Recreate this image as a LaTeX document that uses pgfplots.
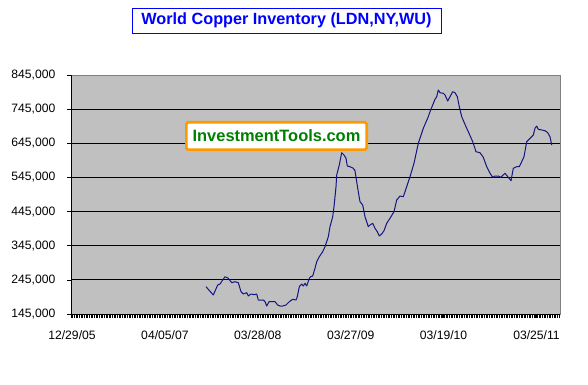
\documentclass[border=0pt]{standalone}
\usepackage{pgfplots}
\pgfplotsset{compat=1.18}
\usepackage{pgfplotstable}
\usepackage{fontspec}
\setmainfont{Liberation Sans}
\definecolor{plotgrey}{RGB}{192,192,192}
\definecolor{bordergrey}{RGB}{128,128,128}
\definecolor{navyline}{RGB}{20,20,130}
\definecolor{wmgreen}{RGB}{0,128,0}
\definecolor{wmorange}{RGB}{255,153,0}
\definecolor{titleblue}{RGB}{0,0,255}

\pgfplotstableread{
x y
206.0 224950
213.3 200640
217.7 229930
220.0 232860
225.0 254240
228.3 249560
231.7 236670
235.0 239600
238.3 236670
241.0 210310
243.3 203570
246.7 207380
248.3 197710
251.0 203570
254.3 201520
256.7 203570
258.3 186000
263.3 186000
265.0 181020
266.7 168420
269.0 181020
271.7 181020
275.0 181020
277.7 171350
280.0 168420
282.7 168420
286.0 171350
289.3 181020
292.7 188050
296.0 186000
297.3 195660
299.3 224950
301.7 232860
303.3 227000
305.0 234910
306.7 227000
309.3 249560
310.7 254240
312.7 256290
315.0 278840
316.7 298170
319.3 312820
322.7 327460
325.0 342110
326.7 356750
328.3 371400
330.0 400690
332.7 429980
334.0 459260
336.0 517840
336.7 552110
339.3 581400
341.7 617420
344.0 610690
346.0 601020
347.3 578470
350.0 576420
353.3 571730
355.0 564700
356.7 532490
358.3 503200
360.0 473910
362.7 464240
365.0 429980
368.3 400690
370.0 405670
372.7 410640
375.0 396000
377.3 386040
379.3 373450
381.7 379310
384.0 388970
386.7 410640
390.0 425290
394.0 444620
396.7 478890
400.0 490600
403.3 488550
405.0 503200
406.7 517840
410.0 547130
414.0 586380
418.3 644960
423.3 688890
428.3 722870
430.0 737510
435.0 773830
436.7 781440
438.3 801070
440.0 793160
443.3 791400
445.0 786420
447.7 768850
450.0 781440
452.7 796090
455.0 793160
457.3 781440
459.3 752150
461.7 722870
466.0 693580
468.3 678930
472.7 649640
476.0 620350
480.0 617420
483.3 603950
486.7 576420
490.0 557090
492.7 545370
495.0 549180
498.3 549180
500.7 545370
505.0 557090
508.3 545370
511.0 535420
513.3 571730
516.7 576420
519.3 576420
521.7 591060
524.0 605710
526.7 649640
530.0 659600
533.3 669270
535.0 688890
536.7 695630
538.3 685960
541.7 683910
545.0 681860
547.7 676000
550.0 664290
551.7 639980
}\copper

\newcommand{\tickfont}{\fontsize{12.2}{14}\selectfont}

\begin{document}
\begin{tikzpicture}
\fill[white] (0bp,0bp) rectangle (588bp,385bp);
\begin{axis}[
  at={(71bp,71bp)}, anchor=south west,
  scale only axis, width=489bp, height=239bp,
  xmin=71, xmax=560, ymin=145000, ymax=845000,
  axis lines=left,
  axis line style={-, black, line width=0.8bp},
  axis background/.style={fill=plotgrey, draw=bordergrey, line width=0.8bp},
  tick align=outside,
  tick style={black, line width=0.7bp},
  major tick length=4bp, minor tick length=4bp,
  /pgf/number format/assume math mode=true,
  scaled y ticks=false,
  ytick={145000,245000,345000,445000,545000,645000,745000,845000},
  yticklabel style={font=\tickfont, /pgf/number format/fixed, /pgf/number format/1000 sep={,}, inner sep=0pt, xshift=-11.5bp},
  extra y ticks={245000,345000,445000,545000,645000,745000},
  extra y tick labels={},
  extra y tick style={grid=major, major tick length=0pt},
  grid style={black, line width=0.8bp},
  xtick={72,164.9,257.8,350.7,443.6,536.5},
  xticklabels={12/29/05,04/05/07,03/28/08,03/27/09,03/19/10,03/25/11},
  xticklabel style={font=\tickfont, inner sep=0pt, yshift=-12bp},
  minor xtick={71,72.66,...,560},
]
\addplot[navyline, line width=1bp, line join=round, no markers] table[x=x,y=y] {\copper};
\end{axis}
\node[draw=titleblue, line width=0.8bp, fill=white, text=titleblue,
  font=\bfseries\fontsize{16.3}{18}\selectfont,
  minimum width=309bp, minimum height=25bp, inner sep=0pt] at (286.5bp,364.5bp) {World Copper Inventory (LDN,NY,WU)};
\node[draw=wmorange, line width=2.7bp, fill=white, rounded corners=1.5bp, text=wmgreen,
  font=\bfseries\fontsize{16.5}{18}\selectfont,
  minimum width=180.3bp, minimum height=27.3bp, inner sep=0pt] at (276.5bp,249bp) {InvestmentTools.com};
\end{tikzpicture}
\end{document}
